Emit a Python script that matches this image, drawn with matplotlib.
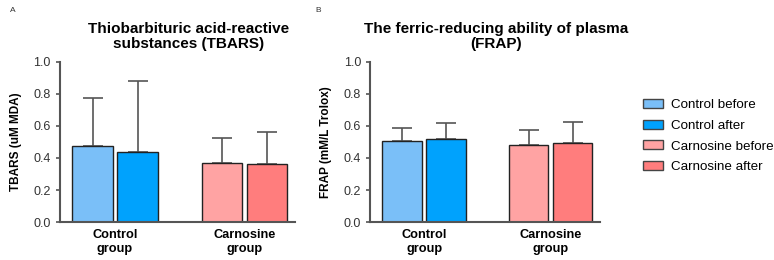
import numpy as np
import matplotlib.pyplot as plt
from matplotlib.patches import Patch

plt.rcParams['font.family'] = ['Liberation Sans', 'DejaVu Sans']

# datos
grupos = ['Control\ngroup', 'Carnosine\ngroup']
series = ['Control before', 'Control after', 'Carnosine before', 'Carnosine after']
colores = ['#7abff8', '#00a2fd', '#ffa3a3', '#ff7d7d']

tbars_media = [0.475, 0.44, 0.37, 0.36]
tbars_de = [0.30, 0.44, 0.155, 0.20]

frap_media = [0.505, 0.52, 0.48, 0.495]
frap_de = [0.085, 0.10, 0.095, 0.13]

pos = [0, 1, 2.87, 3.87]
gris = '#555555'


def panel(ax, medias, des, titulo, ylabel):
    ax.bar(pos, medias, width=0.9, color=colores, edgecolor='#222222', linewidth=1.0, zorder=2)
    ax.errorbar(pos, medias, yerr=[np.zeros(4), des], fmt='none', ecolor=gris,
                elinewidth=1.2, capsize=7, capthick=1.2, zorder=1)
    ax.set_ylim(0, 1.0)
    ax.set_xlim(-0.73, 4.49)
    ax.set_yticks([0.0, 0.2, 0.4, 0.6, 0.8, 1.0])
    ax.set_yticklabels(['0.0', '0.2', '0.4', '0.6', '0.8', '1.0'])
    ax.set_xticks([0.5, 3.37])
    ax.set_xticklabels(grupos, fontsize=9.2, fontweight='bold', linespacing=1.25)
    ax.tick_params(axis='x', length=0, pad=5)
    ax.tick_params(axis='y', labelsize=9, colors=gris, labelcolor='#333333', width=1.2, length=3)
    for s in ['top', 'right']:
        ax.spines[s].set_visible(False)
    for s in ['left', 'bottom']:
        ax.spines[s].set_color(gris)
        ax.spines[s].set_linewidth(1.5)
    ax.set_title(titulo, fontsize=11, fontweight='bold', pad=10, linespacing=1.1, x=0.547)
    ax.set_ylabel(ylabel, fontsize=8.5, fontweight='bold', labelpad=8)


fig = plt.figure(figsize=[7.74, 2.6], dpi=100)
ax1 = fig.add_axes([0.077, 0.146, 0.304, 0.616])
ax2 = fig.add_axes([0.478, 0.146, 0.297, 0.616])

panel(ax1, tbars_media, tbars_de, 'Thiobarbituric acid-reactive\nsubstances (TBARS)', 'TBARS (uM MDA)')
panel(ax2, frap_media, frap_de, 'The ferric-reducing ability of plasma\n(FRAP)', 'FRAP (mM/L Trolox)')

fig.text(0.013, 0.955, 'A', fontsize=6, color='#333333')
fig.text(0.407, 0.955, 'B', fontsize=6, color='#333333')

handles = [Patch(facecolor=c, edgecolor='#444444', label=s) for c, s in zip(colores, series)]
fig.legend(handles=handles, loc='upper left', bbox_to_anchor=(0.831, 0.62), frameon=False,
           fontsize=9.6, handlelength=1.5, handleheight=0.65, labelspacing=0.65,
           handletextpad=0.6, borderaxespad=0, borderpad=0)

plt.savefig('out.png', dpi=100)
